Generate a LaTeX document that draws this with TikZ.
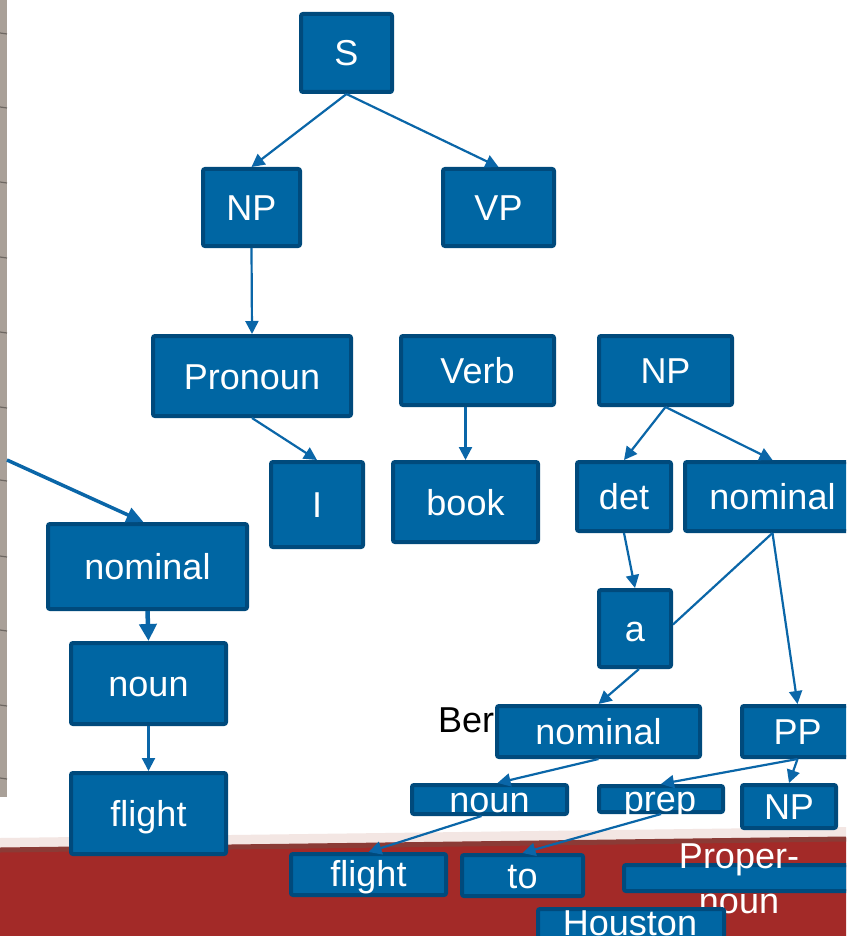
\documentclass[tikz,border=0pt]{standalone}
\usepackage{fontspec}
\setmainfont{Liberation Sans}
\usetikzlibrary{arrows.meta}
\definecolor{boxfill}{HTML}{0066A3}
\definecolor{boxedge}{HTML}{004A7C}
\definecolor{linecol}{HTML}{0A66A8}
\definecolor{bandred}{HTML}{A32A28}
\definecolor{banddark}{HTML}{8B3B36}
\definecolor{bandhaze}{HTML}{F3E6E3}
\definecolor{stripgray}{HTML}{A9A098}
\definecolor{stripline}{HTML}{6E6862}
\begin{document}
\begin{tikzpicture}[x=1pt,y=-1pt,
  box/.style={draw=boxedge, fill=boxfill, line width=4pt, rounded corners=2pt,
    inner sep=0pt, text=white, font=\fontsize{36}{44}\selectfont,
    text height=26pt, text depth=0pt, align=center},
  lbl/.style={inner sep=0pt, text=white, font=\fontsize{36}{48}\selectfont, align=center},
  conn/.style={draw=linecol, line width=2.2pt, -{Triangle[length=13pt,width=13pt]}},
  thickconn/.style={draw=linecol, line width=4.5pt, -{Triangle[length=17pt,width=17pt]}},
  plain/.style={draw=linecol, line width=2.2pt}]
\clip (0,0) rectangle (846,936);
\fill[white] (0,0) rectangle (846,936);
% background: red band and left strip
\fill[bandhaze] (0,838) -- (846,827) -- (846,837) -- (0,848) -- cycle;
\fill[bandred] (0,848) -- (846,837) -- (846,936) -- (0,936) -- cycle;
\draw[banddark, line width=5pt] (0,850) -- (846,839);
\fill[stripgray] (0,0) rectangle (7,797);
\foreach \yy in {33,107,182,257,332,407,480,556,630,705,778}
  \draw[stripline, line width=1.2pt] (0,\yy) -- (7,\yy+1);
% partly hidden text
\node[anchor=base west, inner sep=0pt, font=\fontsize{36}{44}\selectfont] (ber) at (438,732) {Ber};
% boxes
\node[box, minimum width=91pt, minimum height=78pt] (S) at (346.5,53) {S};
\node[box, minimum width=97pt, minimum height=77pt] (NPa) at (251.5,207.5) {NP};
\node[box, minimum width=111pt, minimum height=77pt] (VP) at (498.5,207.5) {VP};
\node[box, minimum width=198pt, minimum height=80pt] (Pron) at (252,376) {Pronoun};
\node[box, minimum width=153pt, minimum height=69pt] (Verb) at (477.5,370.5) {Verb};
\node[box, minimum width=92pt, minimum height=85pt] (I) at (317,504.5) {I};
\node[box, minimum width=145pt, minimum height=80pt] (book) at (465.5,502) {book};
\node[box, minimum width=133pt, minimum height=69pt] (NPb) at (665.5,370.5) {NP};
\node[box, minimum width=94pt, minimum height=69pt] (det) at (624,496.5) {det};
\node[box, minimum width=175pt, minimum height=69pt] (nomR) at (772.5,496.5) {nominal};
\node[box, minimum width=72pt, minimum height=77pt] (a) at (635,628.5) {a};
\node[box, minimum width=203pt, minimum height=51pt] (nomB) at (598.5,731.5) {nominal};
\node[box, minimum width=111pt, minimum height=51pt] (PP) at (797.5,731.5) {PP};
\node[box, minimum width=155pt, minimum height=29pt] (nounB) at (489.5,799.5) {};
\node[lbl, text height=26pt, text depth=0pt] at (489.5,799) {noun};
\node[box, minimum width=124pt, minimum height=24pt] (prep) at (661,799) {};
\node[lbl, text height=26pt, text depth=0pt] at (660,798) {prep};
\node[box, minimum width=94pt, minimum height=43pt] (NPc) at (789,806.5) {NP};
\node[box, minimum width=155pt, minimum height=41pt] (flightB) at (368.5,874.5) {};
\node[lbl, text height=26pt, text depth=0pt] at (368.5,873.5) {flight};
\node[box, minimum width=121pt, minimum height=41pt] (to) at (522.5,875.5) {to};
\node[box, minimum width=230pt, minimum height=26pt] (propn) at (739,878) {};
\node[lbl, anchor=base] at (739,868) {Proper-};
\node[lbl, anchor=base] at (739,913) {noun};
\node[box, minimum width=186pt, minimum height=40pt] (hou) at (631,929) {};
\node[lbl, anchor=base] at (630,935) {Houston};
\node[box, minimum width=199pt, minimum height=85pt] (nomL) at (147.5,566.5) {nominal};
\node[box, minimum width=155pt, minimum height=81pt] (nounL) at (148.5,683.5) {noun};
\node[box, minimum width=155pt, minimum height=81pt] (flightL) at (148.5,813.5) {flight};
% connectors
\coordinate (lstart) at (7,460);
\draw[conn] (S.south) -- (NPa.north);
\draw[conn] (S.south) -- (VP.north);
\draw[conn] (NPa.south) -- (Pron.north);
\draw[conn] (Pron.south) -- (I.north);
\draw[conn] (Verb.south -| book.north) -- (book.north);
\draw[conn] (NPb.south) -- (det.north);
\draw[conn] (NPb.south) -- (nomR.north);
\draw[conn] (det.south) -- (a.north);
\draw[conn] (nomR.south) -- (PP.north);
\draw[plain] (nomR.south) -- ([yshift=4pt]a.east);
\draw[conn] ([xshift=4pt]a.south) -- (nomB.north);
\draw[conn] (nomB.south) -- ([xshift=8pt]nounB.north);
\draw[conn] ([xshift=-8pt]nounB.south) -- (flightB.north);
\draw[conn] (PP.south) -- (prep.north);
\draw[conn] (PP.south) -- (NPc.north);
\draw[conn] (prep.south) -- (to.north);
\draw[conn, line width=3.5pt, -{Triangle[length=17pt,width=15pt]}] (lstart) -- ([xshift=-4pt]nomL.north);
\draw[thickconn] (nomL.south) -- (nounL.north);
\draw[conn] (nounL.south) -- (flightL.north);
\end{tikzpicture}
\end{document}
